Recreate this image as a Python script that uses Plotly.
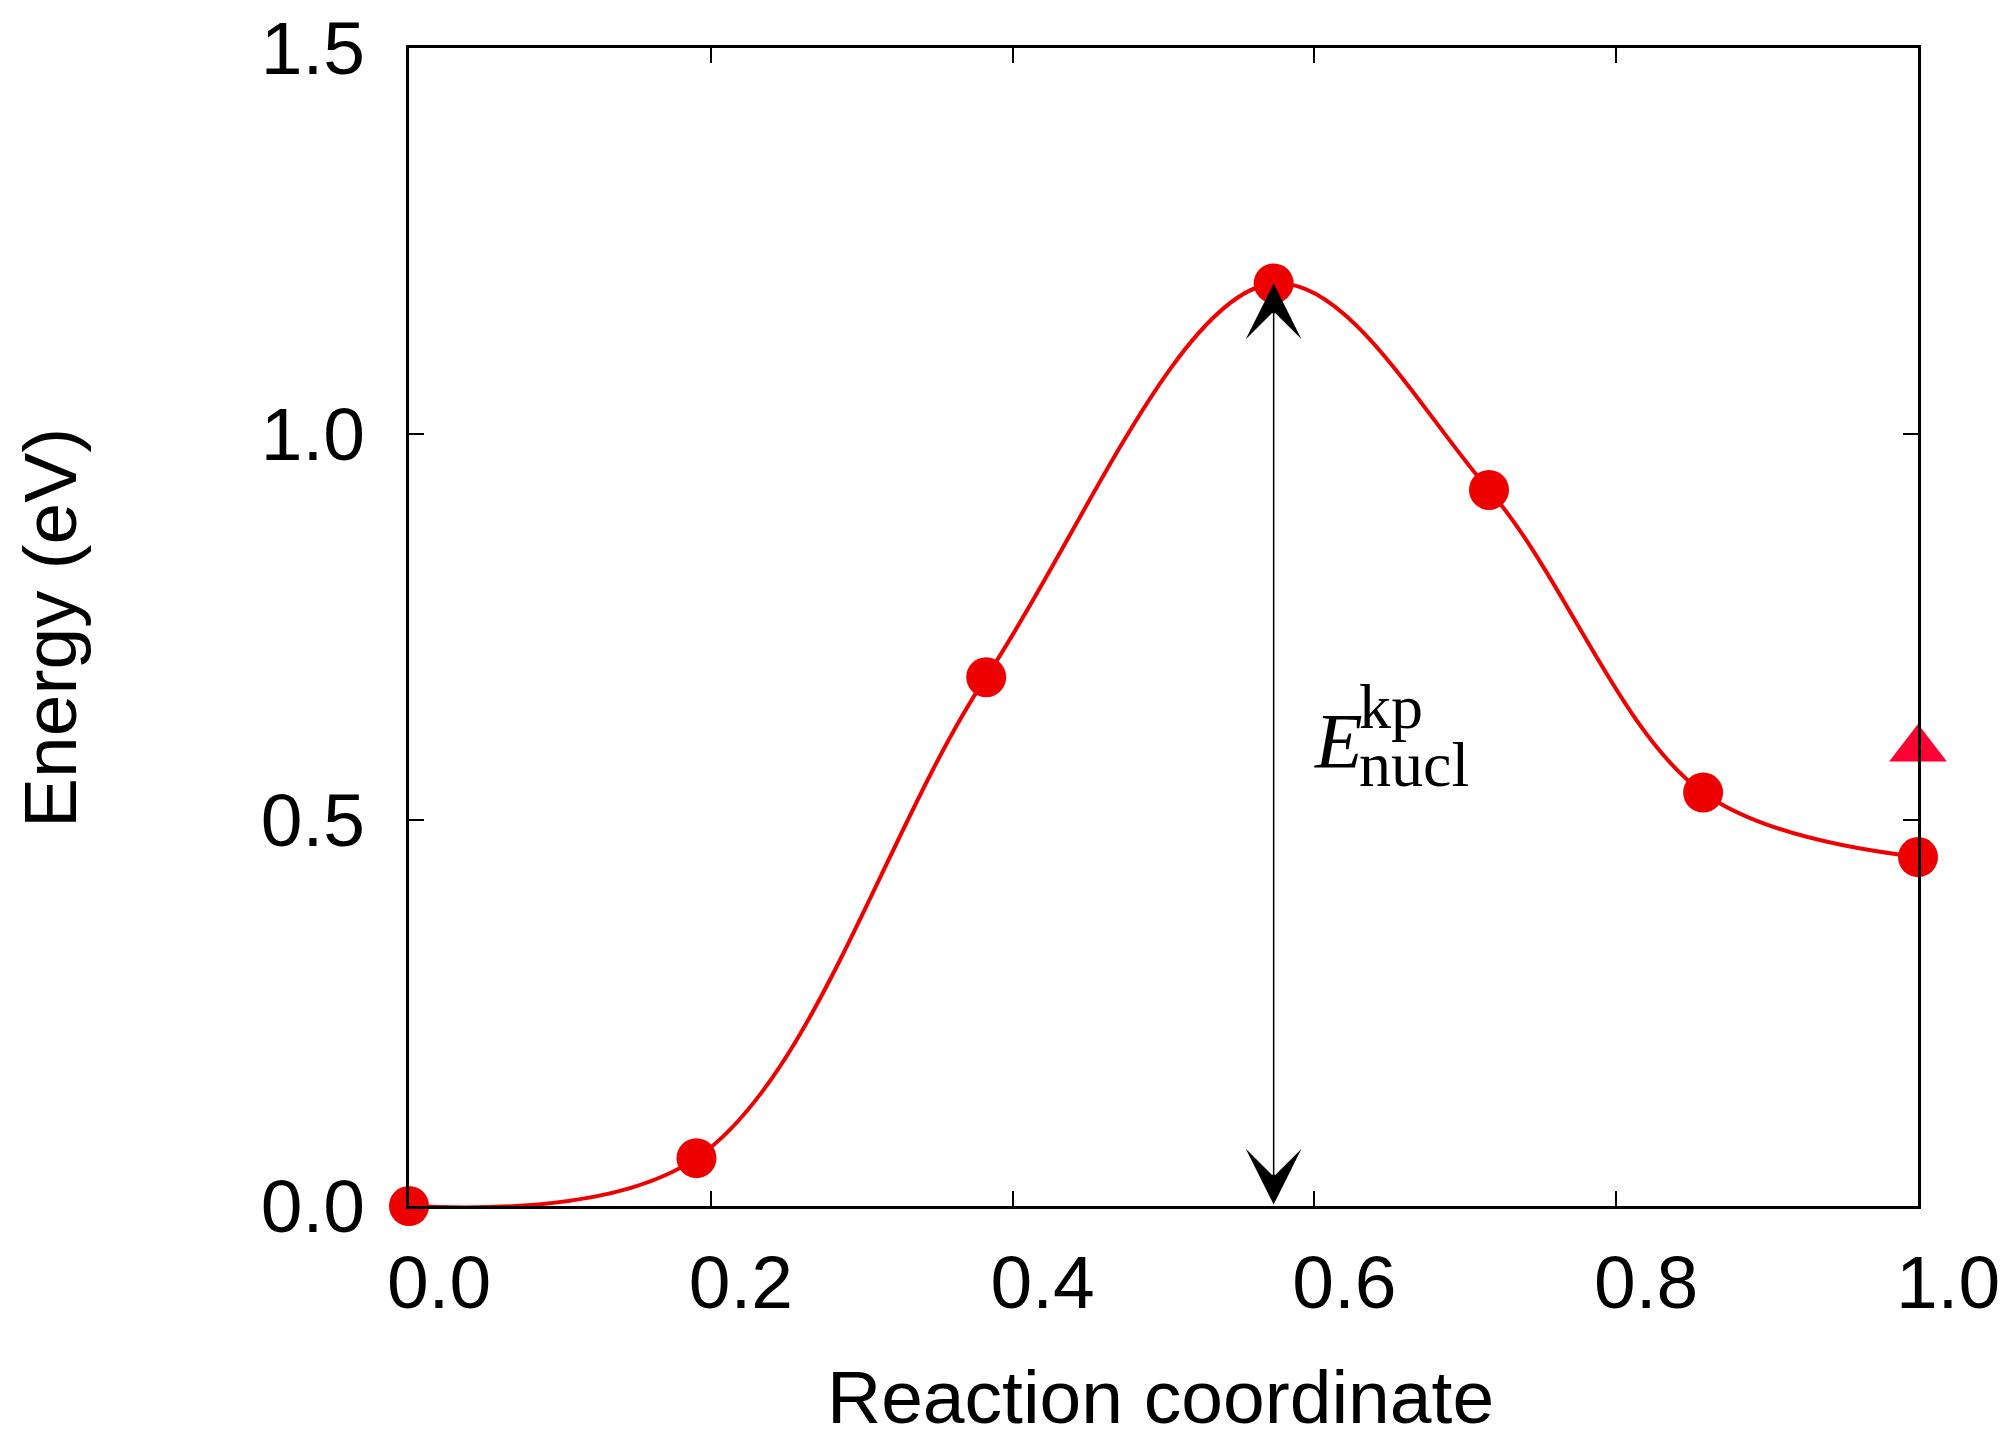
import plotly.graph_objects as go

# Data
reaction_coord = [0.0, 0.1905, 0.3825, 0.573, 0.7157, 0.8576, 1.0]
energy = [0.0, 0.062, 0.685, 1.195, 0.9275, 0.5355, 0.452]
extra_x = [1.0]
extra_y = [0.592]
barrier_x = 0.573
barrier_top = 1.195
barrier_bottom = 0.0
x_ticks = [0.0, 0.2, 0.4, 0.6, 0.8, 1.0]
y_ticks = [0.0, 0.5, 1.0, 1.5]

RED = "#EE0000"
SANS = "Liberation Sans, Arial, Helvetica, sans-serif"
SERIF = "Liberation Serif, Times New Roman, serif"

fig = go.Figure()

fig.add_trace(go.Scatter(
    x=reaction_coord, y=energy, mode="lines",
    line=dict(color=RED, width=4, shape="spline", smoothing=1.0),
    cliponaxis=False, showlegend=False, hoverinfo="skip"))

fig.add_trace(go.Scatter(
    x=reaction_coord, y=energy, mode="markers",
    marker=dict(color=RED, size=40, symbol="circle"),
    cliponaxis=False, showlegend=False))

fig.add_trace(go.Scatter(
    x=extra_x, y=extra_y, mode="markers",
    marker=dict(color="#FF0033", size=50, symbol="triangle-up"),
    cliponaxis=False, showlegend=False))

# double-headed arrow
fig.add_annotation(
    x=barrier_x, y=barrier_top, ax=barrier_x, ay=barrier_bottom,
    xref="x", yref="y", axref="x", ayref="y",
    text="", showarrow=True, arrowhead=3, startarrowhead=3,
    arrowside="end+start", arrowwidth=1.5, arrowsize=6.2, startarrowsize=6.2,
    arrowcolor="black", standoff=0, startstandoff=0)

# E^kp_nucl label
fig.add_annotation(x=0.616, y=0.603, xref="x", yref="y", text="<i>E</i>",
                   showarrow=False, xanchor="center", yanchor="middle",
                   font=dict(family=SERIF, size=78, color="black"))
fig.add_annotation(x=0.628, y=0.647, xref="x", yref="y", text="kp",
                   showarrow=False, xanchor="left", yanchor="middle",
                   font=dict(family=SERIF, size=64, color="black"))
fig.add_annotation(x=0.628, y=0.572, xref="x", yref="y", text="nucl",
                   showarrow=False, xanchor="left", yanchor="middle",
                   font=dict(family=SERIF, size=64, color="black"))

# axis titles
fig.add_annotation(x=0.498, y=-0.165, xref="paper", yref="paper",
                   text="Reaction coordinate", showarrow=False,
                   xanchor="center", yanchor="middle",
                   font=dict(family=SANS, size=75, color="black"))
fig.add_annotation(x=-0.238, y=0.499, xref="paper", yref="paper",
                   text="Energy (eV)", showarrow=False, textangle=-90,
                   xanchor="center", yanchor="middle",
                   font=dict(family=SANS, size=75, color="black"))

axis_common = dict(
    showline=True, linecolor="black", linewidth=3, mirror="ticks",
    ticks="inside", ticklen=15, tickwidth=1.5, tickcolor="black",
    showgrid=False, zeroline=False, automargin=False,
    tickfont=dict(family=SANS, size=75, color="black"),
    tickformat=".1f", ticklabeloverflow="allow")

fig.update_xaxes(range=[0, 1], tickvals=x_ticks, ticklabelstandoff=9,
                 ticklabelshift=30, **axis_common)
fig.update_yaxes(range=[0, 1.5], tickvals=y_ticks, ticklabelstandoff=26, **axis_common)

fig.update_layout(
    width=2011, height=1434,
    margin=dict(l=401, r=101, t=40, b=236, autoexpand=False),
    paper_bgcolor="white", plot_bgcolor="white",
    font=dict(family=SANS, color="black"))

fig.write_html("out.html")
